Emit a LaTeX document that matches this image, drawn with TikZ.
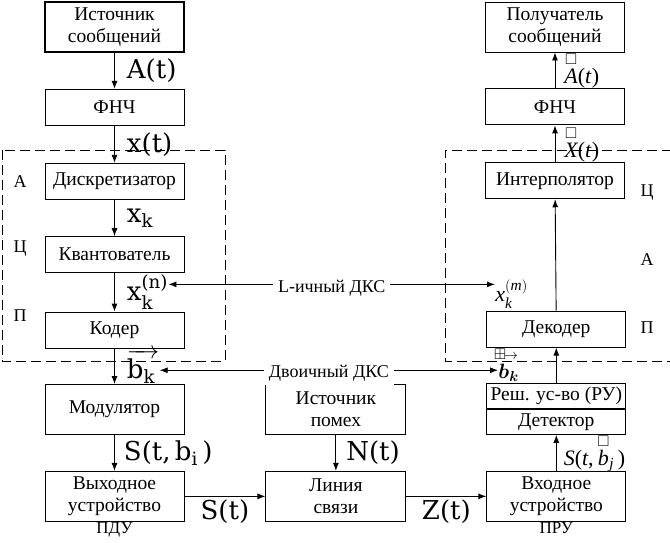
\documentclass[tikz,border=0pt]{standalone}
\usepackage{amsmath,amssymb}
\usepackage{fontspec}
\setmainfont{Liberation Serif}
\newfontfamily\lblfont{DejaVu Serif}
\usetikzlibrary{arrows.meta,positioning}

\begin{document}
\begin{tikzpicture}[x=1pt, y=-1pt, line width=0.9pt,
    box/.style={draw, fill=white, minimum width=139pt, minimum height=#1, inner sep=1pt, align=center, font=\fontsize{19.5}{22}\selectfont},
    box/.default=36pt,
    arr/.style={-{Latex[length=8pt,width=6pt]}},
    dks/.style={{Latex[length=8pt,width=6pt]}-{Latex[length=8pt,width=6pt]}},
    sig/.style={font=\lblfont\fontsize{26}{26}\selectfont, inner sep=0pt},
    isig/.style={font=\fontsize{22}{22}\selectfont, inner sep=0pt},
    tag/.style={font=\fontsize{18}{18}\selectfont},
    frame/.style={dash pattern=on 10pt off 5pt, line width=0.8pt}
]
\useasboundingbox (0,0) rectangle (670,542);

% передатчик
\node[box=50pt, line width=1.8pt] (src) at (114.5,27) {Источник\\сообщений};
\node[box, below=36pt of src] (lpfT) {ФНЧ};
\node[box, below=37pt of lpfT] (disc) {Дискретизатор};
\node[box, below=36.5pt of disc] (quant) {Квантователь};
\node[box, below=38.5pt of quant] (coder) {Кодер};
\node[box=50pt, below=35.5pt of coder] (mod) {Модулятор};
\node[box=50pt, below=36pt of mod] (outdev) {Выходное\\устройство};
\node[tag, below=0pt of outdev, inner sep=0pt, font=\fontsize{17}{17}\selectfont] {ПДУ};

% канал
\node[box=50pt, minimum width=140pt, right=81pt of outdev] (chan) {Линия\\связи};
\node[box=50pt, minimum width=140pt, above=36pt of chan] (noise) {Источник\\помех};

% приемник
\node[box=50pt] (dst) at (555,27) {Получатель\\сообщений};
\node[box, below=36pt of dst] (lpfR) {ФНЧ};
\node[box, below=37pt of lpfR] (interp) {Интерполятор};
\node[box=50pt, right=80pt of chan] (indev) {Входное\\устройство};
\node[tag, below=0pt of indev, inner sep=0pt, font=\fontsize{17}{17}\selectfont] {ПРУ};
\node[box=25pt, above=36pt of indev] (detect) {Детектор};
\node[box=25pt, above=0pt of detect] (decis) {Реш. ус-во (РУ)};
\node[box, above=35.5pt of decis] (decod) {Декодер};

% АЦП / ЦАП
\draw[frame] (2,150) rectangle (225,361);
\draw[frame] (672,150) -- (445,150) -- (445,361) -- (672,361);
\node[tag] at (20,182) {А};
\node[tag] at (20,249) {Ц};
\node[tag] at (20,316) {П};
\node[tag] at (647,193) {Ц};
\node[tag] at (647,260) {А};
\node[tag] at (647,328) {П};

\draw[arr] (src) -- (lpfT) node[sig, midway, right=12pt] {A(t)};
\draw[arr] (lpfT) -- (disc) node[sig, midway, right=12pt] {x(t)};
\draw[arr] (disc) -- (quant) node[sig, midway, right=12pt] {$\text{x}_{\text{k}}$};
\draw[arr] (quant) -- (coder) node[sig, midway, right=12pt] (xn) {$\text{x}_{\text{k}}^{\text{(n)}}$};
\draw[arr] (coder) -- (mod) node[sig, midway, right=12pt] (bT) {$\overrightarrow{\text{b}_{\text{k}}\,}$};
\draw[arr] (mod) -- (outdev) node[sig, midway, right=9pt] {S(t,\,$\text{b}_{\text{i}}$\,)};

\draw[arr] (noise) -- (chan) node[sig, midway, right=10pt] {N(t)};
\draw[arr] (outdev) -- (chan) node[sig, midway, below=3pt] {S(t)};
\draw[arr] (chan) -- (indev) node[sig, midway, below=3pt] {Z(t)};

\draw[arr] (indev) -- (detect) node[isig, midway, right=7pt] {\textit{S}(\textit{t},\,$\overset{\scriptstyle\square}{\textit{b}}_{\textit{j}}$\,)};
\draw[arr] (decis) -- (decod);
\draw[arr] (decod) -- (interp);
\draw[arr] (interp) -- (lpfR) node[isig, midway, right=9pt] {$\overset{\scriptstyle\square}{\textit{X}}$(\textit{t})};
\draw[arr] (lpfR) -- (dst) node[isig, midway, right=9pt] {$\overset{\scriptstyle\square}{\textit{A}}$(\textit{t})};

% каналы дискретных сообщений
\node[isig, anchor=west] (xm) at (495,294) {$\textit{x}_{\textit{k}}^{(\textit{m})}$};
\node[isig, anchor=west] (bR) at (498,364) {$\overset{\makebox[0pt][l]{$\scriptstyle\boxplus\!\rightarrow$}}{\boldsymbol{b}}_{\boldsymbol{k}}$};
\draw[dks] ([yshift=8pt]xn.east) -- ([yshift=8pt]xn.east -| xm.west) node[tag, midway, fill=white, inner xsep=5pt, yshift=-4pt] {L-ичный ДКС};
\draw[dks] ([yshift=-4pt]bT.east) -- ([yshift=-4pt]bT.east -| bR.west) node[tag, midway, fill=white, inner xsep=5pt, yshift=-3pt] {Двоичный ДКС};
\end{tikzpicture}
\end{document}
